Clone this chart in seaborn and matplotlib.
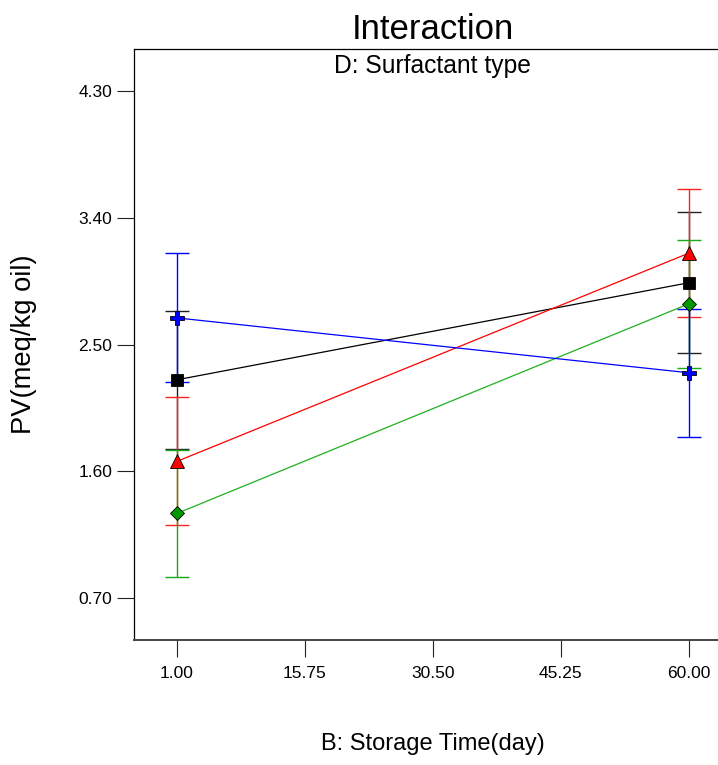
import pandas as pd
import seaborn as sns
import matplotlib.pyplot as plt

# storage time levels (B) and PV means per surfactant type (D)
storage_days = [1, 60]
surfactants = ['D1', 'D2', 'D3', 'D4']
pv_d1 = [2.25, 2.94]
pv_d2 = [1.67, 3.15]
pv_d3 = [1.30, 2.79]
pv_d4 = [2.69, 2.30]
# LSD bar half-widths
err_d1 = [0.49, 0.50]
err_d2 = [0.455, 0.455]
err_d3 = [0.452, 0.453]
err_d4 = [0.458, 0.455]

x_ticks = [1.00, 15.75, 30.50, 45.25, 60.00]
y_ticks = [0.70, 1.60, 2.50, 3.40, 4.30]

rows = []
for name, vals, errs in zip(surfactants, [pv_d1, pv_d2, pv_d3, pv_d4],
                            [err_d1, err_d2, err_d3, err_d4]):
    for d, v, e in zip(storage_days, vals, errs):
        rows.append({'day': d, 'pv': v, 'err': e, 'type': name})
df = pd.DataFrame(rows)

sns.set_style('white')
plt.rcParams['font.family'] = ['Liberation Sans', 'DejaVu Sans']
plt.rcParams['text.color'] = 'black'
plt.rcParams['axes.labelcolor'] = 'black'

styles = {
    'D1': dict(color='black', ecolor='#222222', marker='s', ms=8.2, mfc='black'),
    'D2': dict(color='#ff0000', ecolor='#ff2020', marker='^', ms=9.5, mfc='#ff0000'),
    'D3': dict(color='#20b020', ecolor='#18a818', marker='D', ms=7.4, mfc='#009a00'),
    'D4': dict(color='#0000ff', ecolor='#0000ff', marker='P', ms=10.5, mfc='#0000ff'),
}

fig = plt.figure(figsize=(7.18, 7.65), dpi=100)
ax = fig.add_axes([0.18705, 0.1634, 0.8316, 0.7722])

for i, name in enumerate(surfactants):
    sub = df[df['type'] == name]
    st = styles[name]
    ax.errorbar(sub['day'], sub['pv'], yerr=sub['err'], fmt='none',
                ecolor=st['ecolor'], elinewidth=1.0, capsize=8.9,
                capthick=1.0, zorder=2 + i * 0.1)
    sns.lineplot(data=sub, x='day', y='pv', ax=ax, color=st['color'],
                 linewidth=0.9, marker=st['marker'], markersize=st['ms'],
                 markerfacecolor=st['mfc'], markeredgecolor='black',
                 markeredgewidth=0.6, zorder=5 + i * 0.1)

ax.set_xlim(1 - 59 / 12, 60 + 59 / 12)
ax.set_ylim(0.70 - 3.6 / 12, 4.30 + 3.6 / 12)
ax.set_xticks(x_ticks)
ax.set_xticklabels([f'{t:.2f}' for t in x_ticks])
ax.set_yticks(y_ticks)
ax.set_yticklabels([f'{t:.2f}' for t in y_ticks])
ax.tick_params(axis='both', direction='out', length=12, width=0.8,
               colors='#222222', labelcolor='black', labelsize=12.5,
               bottom=True, left=True)
ax.tick_params(axis='x', pad=6.5)
ax.tick_params(axis='y', pad=3.8)

for side in ['left', 'top']:
    ax.spines[side].set_color('black')
    ax.spines[side].set_linewidth(0.9)
ax.spines['bottom'].set_color('#444444')
ax.spines['bottom'].set_linewidth(1.4)
ax.spines['right'].set_visible(False)

ax.set_title('Interaction', fontsize=25, pad=7.5, color='black')
ax.text(0.5, 0.9717, 'D: Surfactant type', transform=ax.transAxes,
        ha='center', va='center', fontsize=17.7, color='black')
ax.set_xlabel('B: Storage Time(day)', fontsize=17)
ax.xaxis.set_label_coords(0.5, -0.157)
ax.set_ylabel('PV(meq/kg oil)', fontsize=19.7)
ax.yaxis.set_label_coords(-0.163, 0.5)

fig.savefig('out.png', dpi=100)
